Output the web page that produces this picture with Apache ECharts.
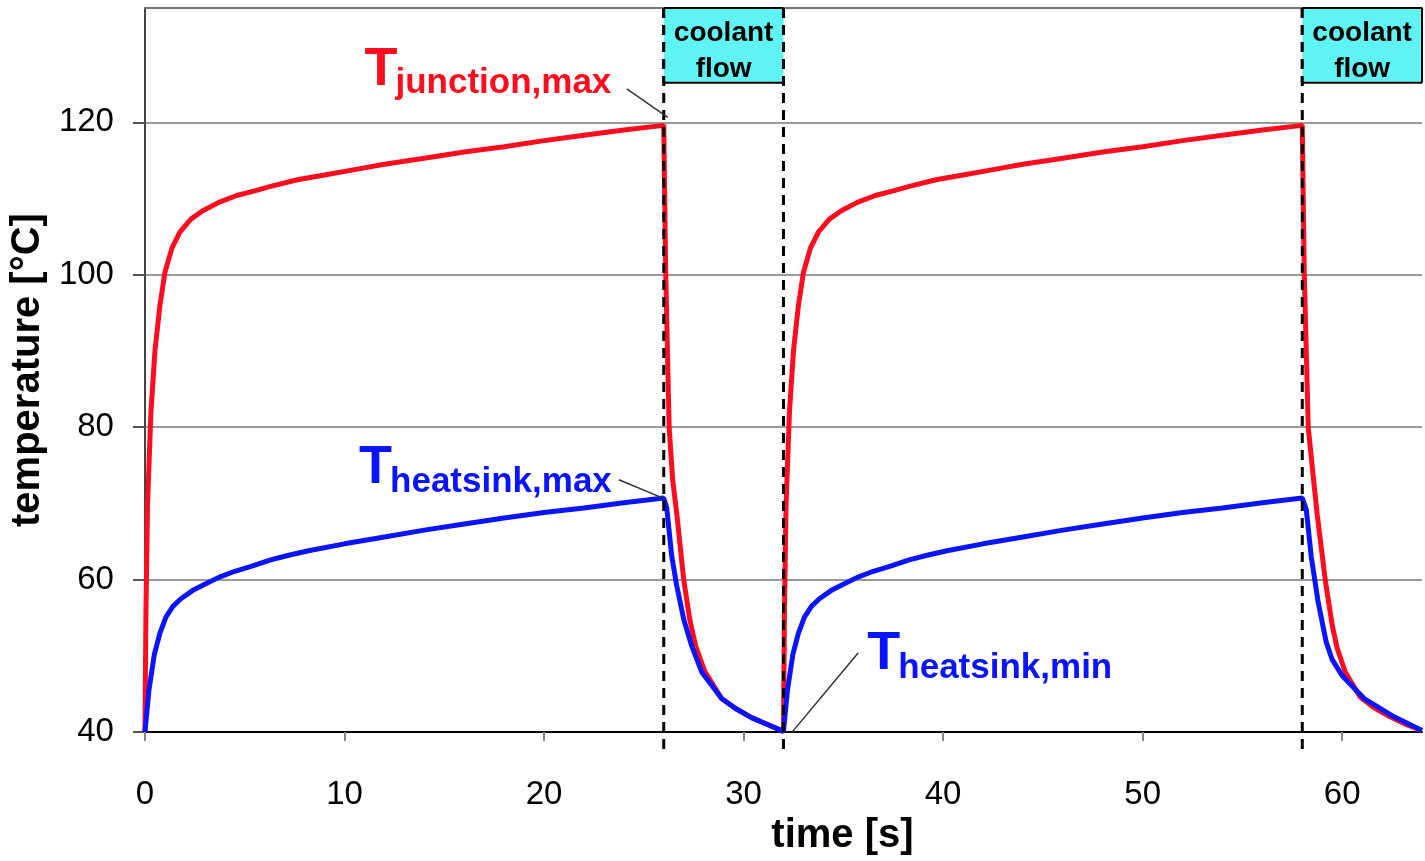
<!DOCTYPE html>
<html>
<head>
<meta charset="utf-8">
<script src="https://cdn.jsdelivr.net/npm/echarts@6/dist/echarts.min.js"></script>
<style>
html,body{margin:0;padding:0;background:#fff;overflow:hidden;}
#chart{width:1425px;height:861px;}
</style>
</head>
<body>
<div id="chart"></div>
<script>
// ---- data ----
const xTicks = [0, 10, 20, 30, 40, 50, 60];
const yTicks = [40, 60, 80, 100, 120];

// T_junction,max  [time s, temperature °C]
const junctionMax = [
  [0,40],[0.05,56],[0.13,70],[0.3,82],[0.5,90],[0.75,96],[1.0,100.3],[1.35,103.5],[1.75,105.6],[2.3,107.3],
  [2.9,108.4],[3.7,109.5],[4.6,110.4],[5.5,111],[6.3,111.6],[7.7,112.5],[9,113.1],[10.5,113.8],[12,114.5],
  [14,115.3],[16,116.1],[18,116.8],[20,117.6],[22,118.3],[24,119],[26,119.6],
  [26.1,100],[26.27,80],[26.45,73],[26.65,68.7],[27,60],[27.3,54.8],[27.6,51.3],[28.05,48],[28.9,44.4],
  [29.6,43.1],[30.4,41.9],[31.2,41],[32,40.1],
  [32.05,56],[32.13,70],[32.3,82],[32.5,90],[32.75,96],[33,100.3],[33.35,103.5],[33.75,105.6],[34.3,107.3],
  [34.9,108.4],[35.7,109.5],[36.6,110.4],[37.5,111],[38.3,111.6],[39.7,112.5],[41,113.1],[42.5,113.8],[44,114.5],
  [46,115.3],[48,116.1],[50,116.8],[52,117.6],[54,118.3],[56,119],[58,119.6],
  [58.1,100],[58.3,80],[58.55,73.5],[58.75,68.5],[59.15,60],[59.5,54],[59.75,51],[60.15,47.9],[60.9,44.6],
  [61.6,43.2],[62.4,42],[63.2,41],[64,40.2]
];

// T_heatsink,max  [time s, temperature °C]
const heatsinkMax = [
  [0,40],[0.2,45.5],[0.47,50.2],[0.75,53],[1.05,55.1],[1.4,56.5],[1.8,57.5],[2.4,58.6],[3,59.4],[3.7,60.3],
  [4.5,61.1],[5.4,61.8],[6.3,62.6],[7.2,63.2],[8.2,63.8],[10,64.7],[12,65.6],[14,66.5],[16,67.3],[18,68.1],
  [20,68.8],[22,69.4],[24,70.1],[26,70.7],
  [26.15,69.4],[26.4,63.1],[26.65,59.2],[27,54.8],[27.4,51.3],[27.9,47.9],[28.9,44.4],[29.6,43.1],[30.4,41.9],
  [31.2,41],[32,40.1],
  [32.2,45.5],[32.47,50.2],[32.75,53],[33.05,55.1],[33.4,56.5],[33.8,57.5],[34.4,58.6],[35,59.4],[35.7,60.3],
  [36.5,61.1],[37.4,61.8],[38.3,62.6],[39.2,63.2],[40.2,63.8],[42,64.7],[44,65.6],[46,66.5],[48,67.3],[50,68.1],
  [52,68.8],[54,69.4],[56,70.1],[58,70.7],
  [58.2,69.2],[58.45,63],[58.8,57],[59.2,51.8],[59.5,49.5],[60,47.4],[61.1,44.4],[62.6,42],[64,40.2]
];

// coolant flow intervals [start s, end s]
const coolantIntervals = [[26, 32], [58, 64]];
// dashed phase boundaries (s)
const phaseBoundaries = [26, 32, 58];

const labelTexts = ['junction,max', 'heatsink,max', 'heatsink,min'];

// ---- chart ----
const FONT = '"Liberation Sans", Arial, Helvetica, sans-serif';
const RED = '#ff0d1f';
const BLUE = '#0a14ff';
const Y_MIN = 40, Y_MAX = 135, X_MIN = 0, X_MAX = 64;

const chart = echarts.init(document.getElementById('chart'), null, {renderer: 'canvas'});

const annotationAnchors = [[11.0, 126.9], [10.73, 74.6], [36.2, 50.2]];
const leaderLines = [[24.15, 124.4, 26.2, 120.65], [23.75, 73.1, 26.05, 70.6], [35.75, 50.4, 32.4, 39.9]];
const labelColors = [RED, BLUE, BLUE];

const option = {
  animation: false,
  backgroundColor: '#fff',
  textStyle: {fontFamily: FONT},
  grid: {left: 142, right: 3, top: 8, bottom: 124, containLabel: false},
  xAxis: [{
    type: 'value', min: X_MIN, max: X_MAX, interval: 10,
    axisLine: {show: true, onZero: false, lineStyle: {color: '#000', width: 2}},
    axisTick: {show: true, length: 9, lineStyle: {color: '#888', width: 2}},
    axisLabel: {
      margin: 46, fontSize: 33, color: '#000', fontFamily: FONT, showMaxLabel: false,
      formatter: v => xTicks.includes(v) ? String(v) : ''
    },
    splitLine: {show: false},
    name: 'time [s]', nameLocation: 'middle', nameGap: 78,
    nameTextStyle: {fontSize: 40, fontWeight: 'bold', color: '#000', fontFamily: FONT, padding: [0, 0, 0, 118]}
  }, {
    type: 'value', position: 'top', min: X_MIN, max: X_MAX,
    axisLine: {show: true, onZero: false, lineStyle: {color: '#777', width: 2}},
    axisTick: {show: false}, axisLabel: {show: false}, splitLine: {show: false}
  }],
  yAxis: {
    type: 'value', min: Y_MIN, max: Y_MAX, interval: 20,
    axisLine: {show: true, onZero: false, lineStyle: {color: '#444', width: 2}},
    axisTick: {show: true, length: 12, lineStyle: {color: '#555', width: 2}},
    axisLabel: {
      margin: 31, fontSize: 33, color: '#000', fontFamily: FONT, showMaxLabel: false,
      formatter: v => yTicks.includes(v) ? String(v) : ''
    },
    splitLine: {show: true, lineStyle: {color: '#999', width: 2}},
    name: 'temperature [°C]', nameLocation: 'middle', nameGap: 93,
    nameTextStyle: {fontSize: 40, fontWeight: 'bold', color: '#000', fontFamily: FONT}
  },
  series: [
    {
      name: 'T junction,max', type: 'line', data: junctionMax, showSymbol: false, z: 2,
      lineStyle: {color: RED, width: 5}, itemStyle: {color: RED}
    },
    {
      name: 'T heatsink,max', type: 'line', data: heatsinkMax, showSymbol: false, z: 3,
      lineStyle: {color: BLUE, width: 5}, itemStyle: {color: BLUE}
    },
    {
      type: 'custom', z: 4, clip: false, silent: true,
      data: phaseBoundaries.map(t => [t, Y_MAX]),
      renderItem: (params, api) => {
        const t = api.value(0);
        const p1 = api.coord([t, Y_MAX]);
        const p2 = api.coord([t, 37]);
        return {type: 'line', shape: {x1: p1[0], y1: p1[1], x2: p2[0], y2: p2[1]},
          style: {stroke: '#000', lineWidth: 3, lineDash: [10, 7]}};
      }
    },
    {
      type: 'custom', z: 5, clip: false, silent: true,
      data: coolantIntervals,
      renderItem: (params, api) => {
        const a = api.coord([api.value(0), Y_MAX]);
        const b = api.coord([api.value(1), 125.2]);
        const children = [
          {type: 'rect', shape: {x: a[0], y: a[1], width: b[0] - a[0], height: b[1] - a[1]},
            style: {fill: '#5ff3f3', stroke: null}},
          {type: 'line', shape: {x1: a[0], y1: a[1], x2: b[0], y2: a[1]}, style: {stroke: '#000', lineWidth: 2}},
          {type: 'line', shape: {x1: a[0], y1: b[1], x2: b[0], y2: b[1]}, style: {stroke: '#000', lineWidth: 2}},
          {type: 'line', shape: {x1: a[0], y1: a[1], x2: a[0], y2: b[1]}, style: {stroke: '#000', lineWidth: 3, lineDash: [10, 7]}},
          {type: 'text', x: (a[0] + b[0]) / 2, y: (a[1] + b[1]) / 2 + 6,
            style: {text: 'coolant\nflow', font: 'bold 28px ' + FONT, fill: '#000',
              align: 'center', verticalAlign: 'middle', lineHeight: 36}}
        ];
        if (api.value(1) < X_MAX) {
          children.push({type: 'line', shape: {x1: b[0], y1: a[1], x2: b[0], y2: b[1]}, style: {stroke: '#000', lineWidth: 3, lineDash: [10, 7]}});
        } else {
          children.push({type: 'line', shape: {x1: b[0], y1: a[1], x2: b[0], y2: b[1]}, style: {stroke: '#000', lineWidth: 2}});
        }
        return {type: 'group', children};
      }
    },
    {
      type: 'custom', z: 6, clip: false, silent: true,
      data: leaderLines,
      renderItem: (params, api) => {
        const p1 = api.coord([api.value(0), api.value(1)]);
        const p2 = api.coord([api.value(2), api.value(3)]);
        return {type: 'line', shape: {x1: p1[0], y1: p1[1], x2: p2[0], y2: p2[1]},
          style: {stroke: '#333', lineWidth: 1.5}};
      }
    },
    {
      type: 'custom', z: 7, clip: false, silent: true,
      data: annotationAnchors,
      renderItem: (params, api) => {
        const i = params.dataIndex;
        const p = api.coord([api.value(0), api.value(1)]);
        const c = labelColors[i];
        return {type: 'group', children: [
          {type: 'text', x: p[0], y: p[1], style: {text: 'T', font: 'bold 54px ' + FONT, fill: c, align: 'left', verticalAlign: 'middle'}},
          {type: 'text', x: p[0] + 31, y: p[1] + 13.5, style: {text: labelTexts[i], font: 'bold 35px ' + FONT, fill: c, align: 'left', verticalAlign: 'middle'}}
        ]};
      }
    }
  ]
};
chart.setOption(option);
</script>
</body>
</html>
